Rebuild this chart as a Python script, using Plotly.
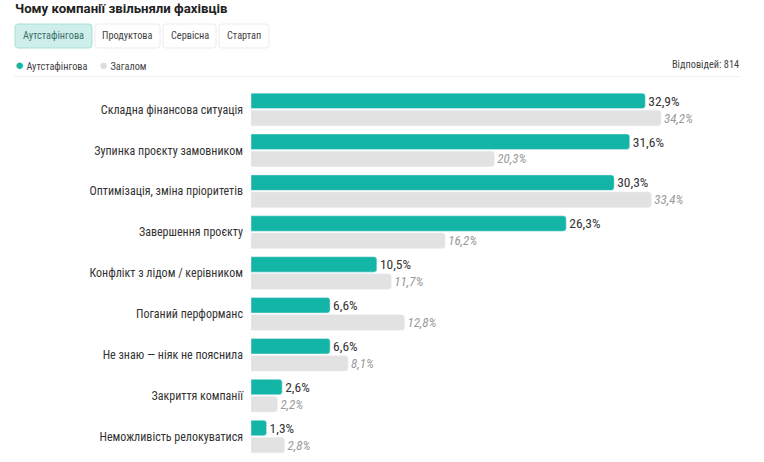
import plotly.graph_objects as go

# data
reasons = [
    "Складна фінансова ситуація",
    "Зупинка проєкту замовником",
    "Оптимізація, зміна пріоритетів",
    "Завершення проєкту",
    "Конфлікт з лідом / керівником",
    "Поганий перформанс",
    "Не знаю — ніяк не пояснила",
    "Закриття компанії",
    "Неможливість релокуватися",
]
outstaff = [32.9, 31.6, 30.3, 26.3, 10.5, 6.6, 6.6, 2.6, 1.3]
overall = [34.2, 20.3, 33.4, 16.2, 11.7, 12.8, 8.1, 2.2, 2.8]
tabs = ["Аутстафінгова", "Продуктова", "Сервісна", "Стартап"]
series_names = ["Аутстафінгова", "Загалом"]
responses = 814

TEAL = "#13b5a6"
GREY = "#e2e2e2"
FONT = "Roboto Condensed, Roboto, sans-serif"

W, H = 764, 462
L, R, T, B = 251, 24, 89, 5


def px(x):
    return (x - L) / (W - L - R)


def py(y):
    return 1 - (y - T) / (H - T - B)


def fmt(v):
    return ("%.1f" % v).replace(".", ",") + "%"


def rounded_rect(x0, y0, x1, y1, r=3):
    # path in paper coords, corners given in pixels
    X = lambda v: "%.5f" % px(v)
    Y = lambda v: "%.5f" % py(v)
    return ("M %s,%s L %s,%s Q %s,%s %s,%s L %s,%s Q %s,%s %s,%s "
            "L %s,%s Q %s,%s %s,%s L %s,%s Q %s,%s %s,%s Z") % (
        X(x0 + r), Y(y0), X(x1 - r), Y(y0), X(x1), Y(y0), X(x1), Y(y0 + r),
        X(x1), Y(y1 - r), X(x1), Y(y1), X(x1 - r), Y(y1),
        X(x0 + r), Y(y1), X(x0), Y(y1), X(x0), Y(y1 - r),
        X(x0), Y(y0 + r), X(x0), Y(y0), X(x0 + r), Y(y0))


fig = go.Figure()

fig.add_trace(go.Bar(
    y=reasons, x=outstaff, orientation="h", name=series_names[0],
    marker=dict(color=TEAL, cornerradius=3),
    text=[fmt(v) for v in outstaff], textposition="outside",
    textfont=dict(color="#333333", size=14, family=FONT),
    cliponaxis=False, hoverinfo="skip",
))
fig.add_trace(go.Bar(
    y=reasons, x=overall, orientation="h", name=series_names[1],
    marker=dict(color=GREY, cornerradius=3),
    text=["<i>%s</i>" % fmt(v) for v in overall], textposition="outside",
    textfont=dict(color="#9a9a9a", size=13, family=FONT),
    cliponaxis=False, hoverinfo="skip",
))

annotations = [
    dict(text="<b>Чому компанії звільняли фахівців</b>", x=px(13), y=py(9),
         xanchor="left", yanchor="middle",
         font=dict(family="Roboto, sans-serif", size=13.2, color="#222222")),
    dict(text="<span style='color:%s;font-size:15px'>●</span> %s" % (TEAL, series_names[0]),
         x=px(13), y=py(65), xanchor="left", yanchor="middle",
         font=dict(family=FONT, size=10.3, color="#444444")),
    dict(text="<span style='color:#dddddd;font-size:15px'>●</span> %s" % series_names[1],
         x=px(97), y=py(65), xanchor="left", yanchor="middle",
         font=dict(family=FONT, size=10.3, color="#444444")),
    dict(text="Відповідей: %d" % responses, x=px(741), y=py(65),
         xanchor="right", yanchor="middle",
         font=dict(family=FONT, size=10.3, color="#444444")),
]

tab_boxes = [(15, 92), (95, 160), (163, 216), (219, 269)]
shapes = [dict(type="line", xref="paper", yref="paper",
               x0=px(14), x1=px(740), y0=py(76.5), y1=py(76.5),
               line=dict(color="#efefef", width=1))]
for i, (name, (x0, x1)) in enumerate(zip(tabs, tab_boxes)):
    active = i == 0
    shapes.append(dict(
        type="path", xref="paper", yref="paper",
        path=rounded_rect(x0, 24, x1, 48),
        fillcolor="#cdeeea" if active else "white",
        line=dict(color="#a9dfd8" if active else "#ececec", width=1),
        layer="below"))
    annotations.append(dict(
        text=name, x=px((x0 + x1) / 2), y=py(36),
        xanchor="center", yanchor="middle",
        font=dict(family=FONT, size=10.3,
                  color="#3d6e69" if active else "#444444")))

for a in annotations:
    a.update(xref="paper", yref="paper", showarrow=False)

fig.update_layout(
    width=W, height=H,
    margin=dict(l=L, r=R, t=T, b=B),
    paper_bgcolor="white", plot_bgcolor="white",
    barmode="group", bargap=0.16, bargroupgap=0.1,
    showlegend=False,
    xaxis=dict(range=[0, 40.8], visible=False, fixedrange=True),
    yaxis=dict(autorange="reversed", showgrid=False, zeroline=False,
               showline=False, ticks="", ticklabelstandoff=7,
               automargin=False,
               tickfont=dict(family=FONT, size=12, color="#333333"),
               fixedrange=True),
    annotations=annotations,
    shapes=shapes,
)

# the page body has a default 8px margin; drop it so the figure sits at (0, 0)
fig.write_html("out.html", config={"displayModeBar": False},
               post_script="document.body.style.margin='0';")
